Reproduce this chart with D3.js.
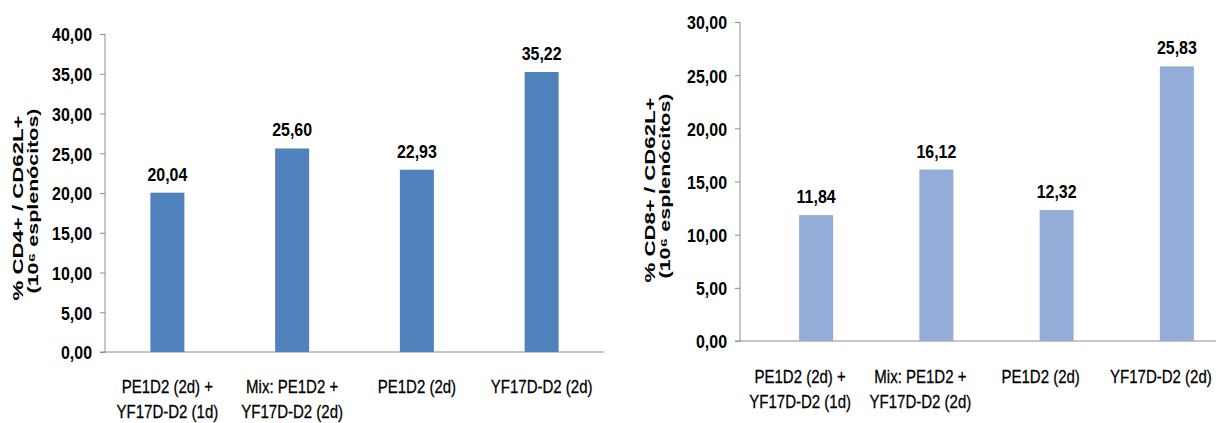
<!DOCTYPE html>
<html>
<head>
<meta charset="utf-8">
<script src="https://cdn.jsdelivr.net/npm/d3@7"></script>
<style>
  html, body { margin: 0; padding: 0; background: #fff; }
  svg { display: block; }
  .narrow { font-family: "Liberation Sans Narrow", "Arial Narrow", "Liberation Sans", Arial, sans-serif; }
  .title { font-family: "Liberation Sans", Arial, sans-serif; font-weight: bold; }
</style>
</head>
<body>
<svg id="chart" width="1216" height="423"></svg>
<script>
// Groups (two-line category labels)
const groups = [
  ["PE1D2 (2d) +", "YF17D-D2 (1d)"],
  ["Mix: PE1D2 +", "YF17D-D2 (2d)"],
  ["PE1D2 (2d)"],
  ["YF17D-D2 (2d)"]
];
const groupKeys = ["g1", "g2", "g3", "g4"];

// % CD4+/CD62L+ per 10^6 splenocytes
const cd4Values = [20.04, 25.60, 22.93, 35.22];
// % CD8+/CD62L+ per 10^6 splenocytes
const cd8Values = [11.84, 16.12, 12.32, 25.83];

const cd4Ticks = [0, 5, 10, 15, 20, 25, 30, 35, 40];
const cd8Ticks = [0, 5, 10, 15, 20, 25, 30];

const cd4Title = ["% CD4+ / CD62L+", "(10\u2076 esplenócitos)"];
const cd8Title = ["% CD8+ / CD62L+", "(10\u2076 esplenócitos)"];

const ptBR = d3.formatLocale({ decimal: ",", thousands: ".", grouping: [3], currency: ["R$", ""] });
const fmt = ptBR.format(".2f");

// horizontal condensing for the narrow face
const NUM_SX = 0.84;
const CAT_SX = 0.79;

const svg = d3.select("#chart");

function drawPanel(cfg) {
  const g = svg.append("g");
  const y = d3.scaleLinear().domain(cfg.domain).range([cfg.yBottom, cfg.yTop]);
  const x = d3.scaleBand().domain(groupKeys).range([cfg.xLeft, cfg.xRight]);
  const barW = 34;

  // y axis
  const yAxis = g.append("g")
    .attr("transform", `translate(${cfg.xLeft},0)`)
    .call(d3.axisLeft(y).tickValues(cfg.ticks).tickSize(5).tickPadding(8).tickFormat(fmt));
  yAxis.select(".domain").attr("stroke", "#8c8c8c").attr("d", `M0,${cfg.yTop}V${cfg.yBottom}`);
  yAxis.selectAll(".tick line").attr("stroke", "#8c8c8c");
  yAxis.selectAll(".tick text")
    .attr("class", "narrow")
    .attr("font-size", 19)
    .attr("font-weight", "bold")
    .attr("fill", "#000")
    .attr("x", -13 / NUM_SX)
    .attr("dy", "0.36em")
    .attr("transform", `scale(${NUM_SX},1)`);

  // x axis (baseline + category labels)
  const xAxis = g.append("g")
    .attr("transform", `translate(0,${cfg.yBottom})`)
    .call(d3.axisBottom(x).tickSize(0).tickFormat(""));
  xAxis.select(".domain").attr("stroke", "#8c8c8c")
    .attr("d", `M${cfg.xLeft - 5},0H${cfg.xRight}`);

  const lbl = g.append("g").attr("class", "narrow");
  groups.forEach((lines, i) => {
    const cxl = x(groupKeys[i]) + x.bandwidth() / 2;
    const t = lbl.append("text")
      .attr("transform", `translate(${cxl},${cfg.yBottom + cfg.labelOffset}) scale(${CAT_SX},1)`)
      .attr("text-anchor", "middle")
      .attr("font-size", 19)
      .attr("fill", "#000")
      .attr("stroke", "#000")
      .attr("stroke-width", 0.3);
    lines.forEach((line, j) => {
      t.append("tspan")
        .attr("x", 0)
        .attr("dy", j === 0 ? 0 : 25)
        .text(line);
    });
  });

  // bars
  const cx = i => x(groupKeys[i]) + x.bandwidth() / 2 + cfg.barShift;
  g.selectAll(".bar").data(cfg.values).join("rect")
    .attr("class", "bar")
    .attr("x", (d, i) => cx(i) - barW / 2)
    .attr("width", barW)
    .attr("y", d => y(d))
    .attr("height", d => y(0) - y(d))
    .attr("fill", cfg.color);

  // value labels
  g.selectAll(".val").data(cfg.values).join("text")
    .attr("class", "val narrow")
    .attr("transform", (d, i) => `translate(${cx(i)},${y(d) - 12}) scale(${NUM_SX},1)`)
    .attr("text-anchor", "middle")
    .attr("font-size", 19)
    .attr("font-weight", "bold")
    .attr("fill", "#000")
    .text(d => fmt(d));

  // rotated y-axis title
  cfg.title.forEach((line, j) => {
    g.append("text")
      .attr("class", "title")
      .attr("transform", `translate(${cfg.titleX[j]},${cfg.titleY[j]}) rotate(-90)`)
      .attr("text-anchor", "middle")
      .attr("font-size", 14)
      .attr("textLength", 185)
      .attr("lengthAdjust", "spacingAndGlyphs")
      .attr("fill", "#000")
      .text(line);
  });
}

drawPanel({
  values: cd4Values, ticks: cd4Ticks, domain: [0, 40], title: cd4Title,
  yTop: 34, yBottom: 352, xLeft: 105, xRight: 604, barShift: 0,
  labelOffset: 41, color: "#4f81bd",
  titleX: [23, 38], titleY: [208, 201]
});

drawPanel({
  values: cd8Values, ticks: cd8Ticks, domain: [0, 30], title: cd8Title,
  yTop: 22, yBottom: 341, xLeft: 740, xRight: 1221, barShift: 16,
  labelOffset: 42, color: "#93acd8",
  titleX: [655, 670], titleY: [190, 186]
});
</script>
</body>
</html>
